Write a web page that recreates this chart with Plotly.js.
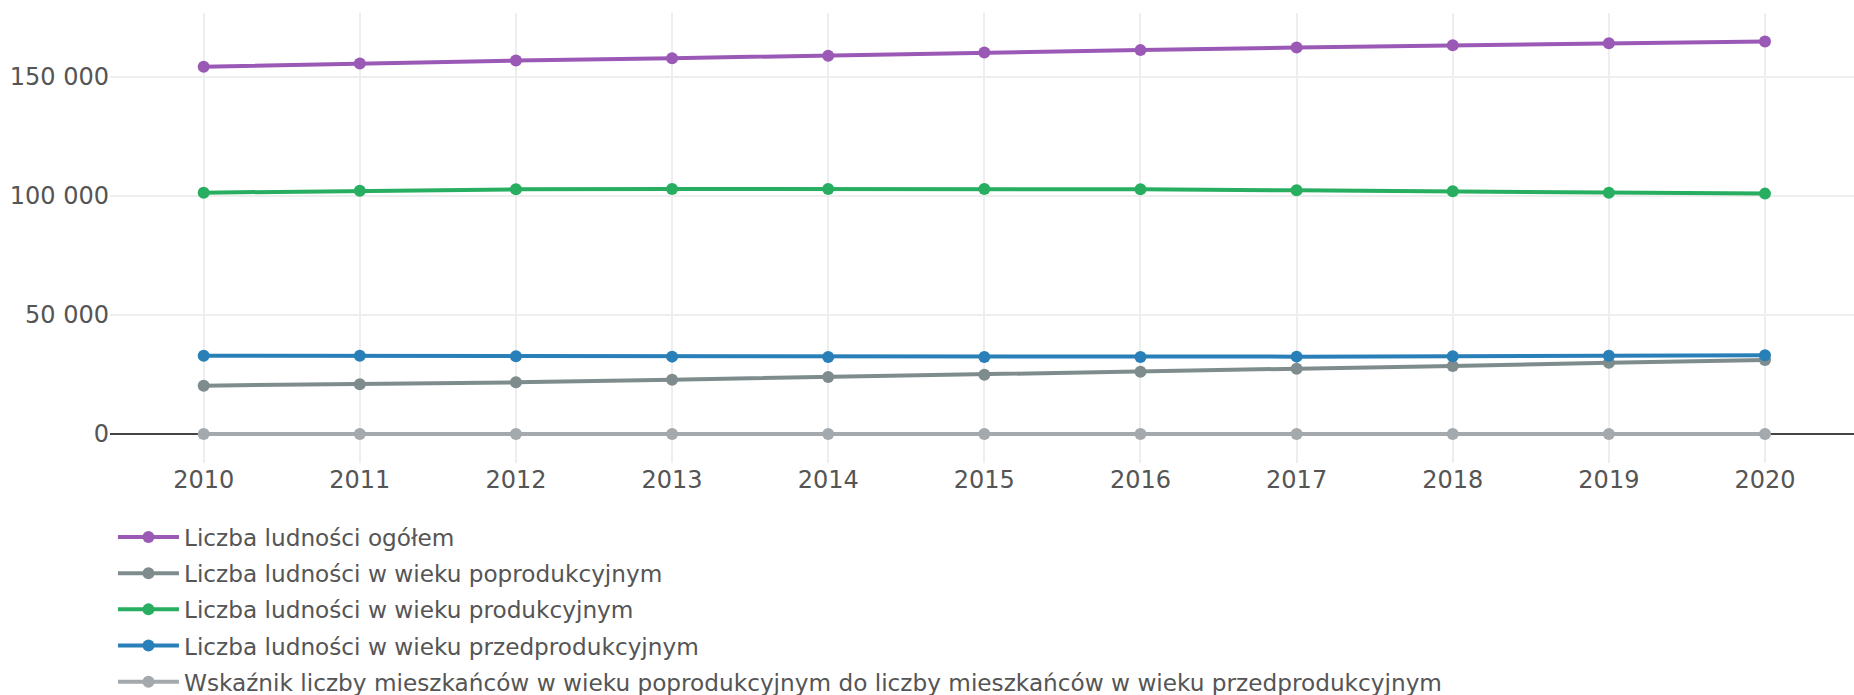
<!DOCTYPE html>
<html>
<head>
<meta charset="utf-8">
<script src="https://cdn.plot.ly/plotly-3.0.1.min.js"></script>
<style>html,body{margin:0;padding:0;background:#fff;}#chart{width:1854px;height:695px;}</style>
</head>
<body>
<div id="chart"></div>
<script>
const years = [2010, 2011, 2012, 2013, 2014, 2015, 2016, 2017, 2018, 2019, 2020];
const seriesNames = [
  "Liczba ludności ogółem",
  "Liczba ludności w wieku poprodukcyjnym",
  "Liczba ludności w wieku produkcyjnym",
  "Liczba ludności w wieku przedprodukcyjnym",
  "Wskaźnik liczby mieszkańców w wieku poprodukcyjnym do liczby mieszkańców w wieku przedprodukcyjnym"
];
const ogolem = [154300, 155700, 156900, 157900, 158900, 160300, 161300, 162400, 163300, 164200, 164900];
const poprodukcyjny = [20300, 20900, 21700, 22800, 23900, 24900, 26100, 27400, 28600, 29900, 31100];
const produkcyjny = [101400, 102200, 102800, 102950, 102950, 102950, 102800, 102400, 102000, 101400, 101000];
const przedprodukcyjny = [32900, 32850, 32700, 32500, 32350, 32300, 32350, 32500, 32700, 32850, 33050];
const wskaznik = [0.62, 0.64, 0.66, 0.70, 0.74, 0.77, 0.81, 0.85, 0.88, 0.91, 0.94];
const yTickVals = [0, 50000, 100000, 150000];
const yTickText = ["0", "50 000", "100 000", "150 000"];
const colors = ["#9b59b6", "#7f8c8d", "#27ae60", "#2980b9", "#a4a9ad"];

const seriesData = [ogolem, poprodukcyjny, produkcyjny, przedprodukcyjny, wskaznik];
const traces = seriesData.map((vals, i) => ({
  type: "scatter",
  mode: "lines+markers",
  x: years,
  y: vals,
  name: seriesNames[i],
  legendgroup: "g" + i,
  line: {color: colors[i], width: 4},
  marker: {color: colors[i], size: 12}
}));

const FONT = '"DejaVu Sans", Verdana, sans-serif';
const layout = {
  width: 1854,
  height: 695,
  margin: {l: 110, r: 0, t: 13, b: 232, pad: 0, autoexpand: false},
  paper_bgcolor: "#fff",
  plot_bgcolor: "#fff",
  font: {family: FONT, size: 24, color: "#555"},
  showlegend: true,
  legend: {
    orientation: "v",
    x: 0.0017, xanchor: "left",
    y: -0.1166, yanchor: "top",
    font: {family: FONT, size: 23.2, color: "#555"},
    itemwidth: 61,
    tracegroupgap: 3,
    bgcolor: "rgba(0,0,0,0)"
  },
  xaxis: {
    range: [2009.4, 2020.57],
    tickvals: years,
    ticktext: years.map(String),
    tickangle: 0,
    showgrid: true,
    gridcolor: "#eeeeee",
    gridwidth: 2,
    zeroline: false,
    showline: false,
    ticks: "",
    automargin: false,
    tickfont: {family: FONT, size: 24, color: "#555"}
  },
  yaxis: {
    range: [-12200, 176900],
    tickvals: yTickVals,
    ticktext: yTickText,
    showgrid: true,
    gridcolor: "#eeeeee",
    gridwidth: 2,
    zeroline: true,
    zerolinecolor: "#444",
    zerolinewidth: 2,
    showline: false,
    ticks: "",
    automargin: false,
    tickfont: {family: FONT, size: 24, color: "#555"}
  }
};

Plotly.newPlot("chart", traces, layout, {displayModeBar: false, staticPlot: true});
</script>
</body>
</html>
